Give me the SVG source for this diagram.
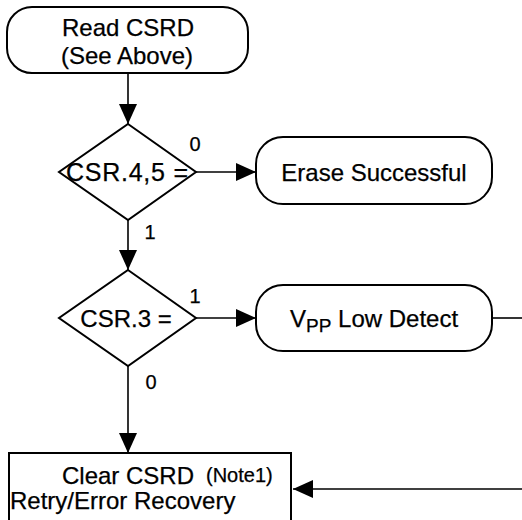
<svg xmlns="http://www.w3.org/2000/svg" width="522" height="520" viewBox="0 0 522 520">
<defs>
<style>
.shape{fill:#fff;stroke:#000;stroke-width:2}
.conn{fill:none;stroke:#000;stroke-width:1.6}
text{font-family:"Liberation Sans",Arial,sans-serif;fill:#000;stroke:#000;stroke-width:0.25}
.t{font-size:24px;text-anchor:middle}
.lbl{font-size:20px;text-anchor:middle}
</style>
<marker id="ah" markerWidth="20" markerHeight="18" refX="20" refY="9" orient="auto" markerUnits="userSpaceOnUse">
<path d="M0,0 L20,9 L0,18 z" fill="#000"/>
</marker>
</defs>
<rect width="522" height="520" fill="#fff"/>
<g id="connectors">
<line class="conn" x1="128" y1="73" x2="128" y2="124" marker-end="url(#ah)"/>
<line class="conn" x1="196" y1="172" x2="256" y2="172" marker-end="url(#ah)"/>
<line class="conn" x1="128" y1="220" x2="128" y2="270" marker-end="url(#ah)"/>
<line class="conn" x1="196" y1="318" x2="256" y2="318" marker-end="url(#ah)"/>
<line class="conn" x1="128" y1="366" x2="128" y2="453" marker-end="url(#ah)"/>
<line class="conn" x1="492" y1="318" x2="522" y2="318"/>
<line class="conn" x1="522" y1="489" x2="293" y2="489" marker-end="url(#ah)"/>
<text class="lbl" x="195" y="151">0</text>
<text class="lbl" x="150" y="239">1</text>
<text class="lbl" x="195" y="303">1</text>
<text class="lbl" x="151" y="389">0</text>
</g>
<g id="read-csrd">
<rect class="shape" x="7" y="7" width="241" height="66" rx="25" ry="25"/>
<text class="t" x="128" y="36">Read CSRD</text>
<text class="t" x="127" y="64">(See Above)</text>
</g>
<g id="csr45">
<polygon class="shape" points="128,124 196,172 128,220 59,172"/>
<text class="t" x="127" y="181" style="font-size:25px" textLength="122">CSR.4,5 =</text>
</g>
<g id="erase-successful">
<rect class="shape" x="256" y="137" width="236" height="67" rx="27" ry="27"/>
<text class="t" x="374" y="181">Erase Successful</text>
</g>
<g id="csr3">
<polygon class="shape" points="128,270 196,318 128,366 59,318"/>
<text class="t" x="126" y="327">CSR.3 =</text>
</g>
<g id="vpp-low-detect">
<rect class="shape" x="256" y="285" width="236" height="66" rx="27" ry="27"/>
<text x="290" y="327" style="font-size:24px">V<tspan dy="5" style="font-size:19px">PP</tspan><tspan dy="-5"> Low Detect</tspan></text>
</g>
<g id="clear-csrd">
<rect class="shape" x="9" y="453" width="282" height="80"/>
<text x="62" y="484" style="font-size:24px">Clear CSRD</text>
<text x="206" y="482" style="font-size:20px">(Note1)</text>
<text x="10" y="509" style="font-size:24px">Retry/Error Recovery</text>
</g>
</svg>
